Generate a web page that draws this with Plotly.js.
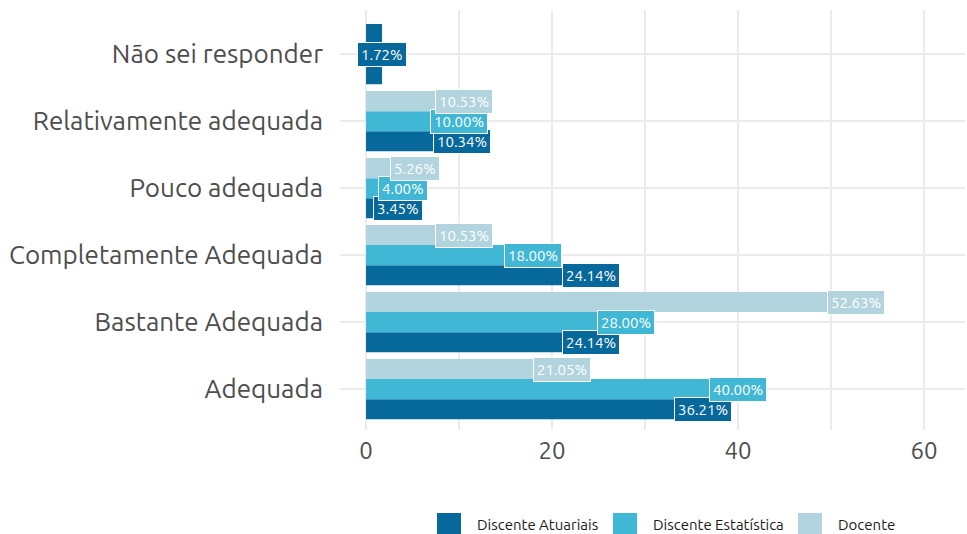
<!DOCTYPE html>
<html>
<head>
<meta charset="utf-8">
<script src="https://cdn.plot.ly/plotly-3.0.1.min.js"></script>
<style>html,body{margin:0;padding:0;background:#fff;}#chart{width:967px;height:534px;}</style>
</head>
<body>
<div id="chart"></div>
<script>
const categories = ["Adequada","Bastante Adequada","Completamente Adequada","Pouco adequada","Relativamente adequada","Não sei responder"];
const seriesNames = ["Discente Atuariais","Discente Estatística","Docente"];
const atuariais = [36.21, 24.14, 24.14, 3.45, 10.34, 1.72];
const estatistica = [40.00, 28.00, 18.00, 4.00, 10.00, null];
const docente = [21.05, 52.63, 10.53, 5.26, 10.53, null];
const xTicks = [0, 20, 40, 60];

const colors = ["#07689b", "#41b7d6", "#b2d4df"];
const seriesVals = [atuariais, estatistica, docente];
const font = "Ubuntu, 'Open Sans', 'Noto Sans', sans-serif";

// plot-area geometry (pixels) used to place the custom legend
const W = 967, H = 534, ML = 340, MR = 2, MT = 10, MB = 104;
const pw = W - ML - MR, ph = H - MT - MB;
const px2x = p => (p - ML) / pw;
const px2y = p => (H - MB - p) / ph;

const nPresent = categories.map((c, i) => seriesVals.filter(s => s[i] !== null).length);

const traces = [];
const annotations = [];
seriesVals.forEach((vals, si) => {
  const widths = [], offsets = [];
  categories.forEach((c, i) => {
    const n = nPresent[i];
    const w = 0.9 / n;
    let k = 0;
    for (let j = 0; j < si; j++) if (seriesVals[j][i] !== null) k++;
    widths.push(w);
    offsets.push(-0.45 + k * w);
    if (vals[i] !== null) {
      annotations.push({
        x: vals[i], y: i - 0.45 + k * w + w / 2, xref: 'x', yref: 'y',
        text: vals[i].toFixed(2) + '%', showarrow: false,
        font: {family: font, size: 15, color: '#ffffff'},
        bgcolor: colors[si], bordercolor: '#ffffff', borderwidth: 1, borderpad: 3,
        xanchor: 'center', yanchor: 'middle'
      });
    }
  });
  traces.push({
    type: 'bar', orientation: 'h', name: seriesNames[si],
    y: categories, x: vals, width: widths, offset: offsets,
    marker: {color: colors[si]}, hoverinfo: 'skip', showlegend: false
  });
});

// custom legend (large square keys like the reference)
const legendKeyX = [437, 613, 798];
const shapes = [];
seriesNames.forEach((nm, si) => {
  const x0 = legendKeyX[si];
  shapes.push({
    type: 'rect', xref: 'paper', yref: 'paper',
    x0: px2x(x0), x1: px2x(x0 + 24), y0: px2y(534), y1: px2y(513),
    fillcolor: colors[si], line: {width: 0}
  });
  annotations.push({
    xref: 'paper', yref: 'paper', x: px2x(x0 + 38), y: px2y(524),
    xanchor: 'left', yanchor: 'middle', showarrow: false, text: nm,
    font: {family: font, size: 15, color: '#1a1a1a'}
  });
});

const layout = {
  width: W, height: H,
  margin: {l: ML, r: MR, t: MT, b: MB},
  paper_bgcolor: '#ffffff', plot_bgcolor: '#ffffff',
  barmode: 'overlay',
  font: {family: font, color: '#4d4d4d'},
  xaxis: {
    range: [-2.8, 64.4], tickvals: xTicks, ticktext: xTicks.map(String),
    showgrid: true, gridcolor: '#ebebeb', gridwidth: 2, zeroline: false,
    minor: {dtick: 10, tick0: 0, showgrid: true, gridcolor: '#ebebeb', gridwidth: 2},
    tickfont: {size: 24, color: '#4d4d4d'}, ticks: '', showline: false,
    ticklabelstandoff: 4
  },
  yaxis: {
    type: 'category', categoryorder: 'array', categoryarray: categories,
    range: [-0.61, 5.66],
    showgrid: true, gridcolor: '#ebebeb', gridwidth: 2, zeroline: false,
    tickfont: {size: 26, color: '#4d4d4d'}, ticks: '', ticklabelstandoff: 16
  },
  showlegend: false,
  shapes: shapes,
  annotations: annotations
};

Plotly.newPlot('chart', traces, layout, {displayModeBar: false, staticPlot: true});
</script>
</body>
</html>
